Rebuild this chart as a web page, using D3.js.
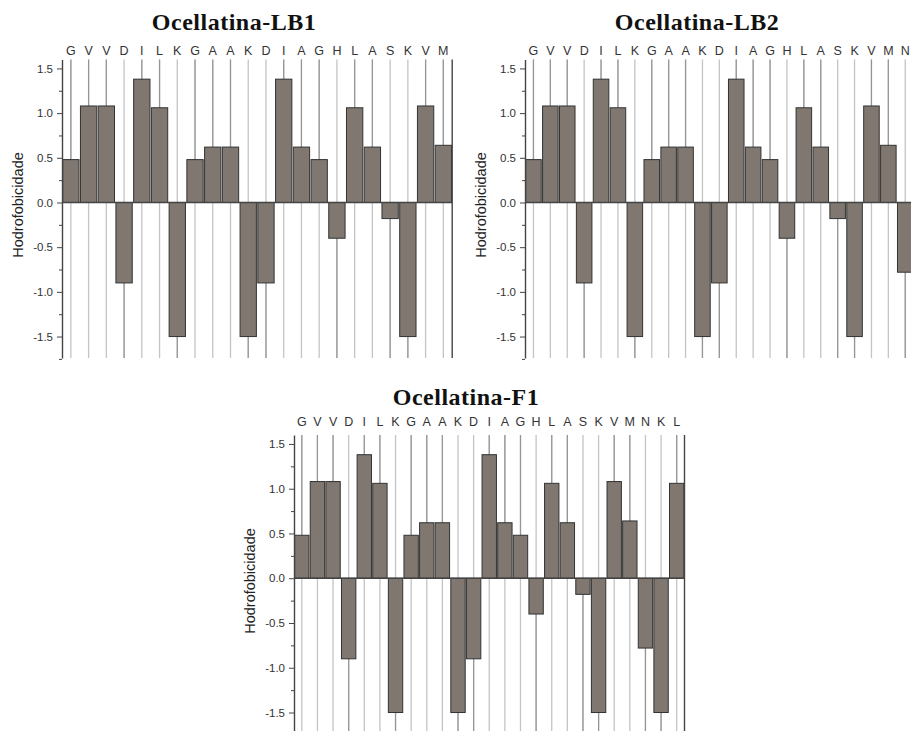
<!DOCTYPE html>
<html>
<head>
<meta charset="utf-8">
<script src="https://cdn.jsdelivr.net/npm/d3@7"></script>
<style>
  body { margin: 0; background: #fff; }
  svg { display: block; }
  .tick text { font-family: "Liberation Sans", Arial, sans-serif; font-size: 11.5px; fill: #333; }
</style>
</head>
<body>
<svg id="chart" width="911" height="731"></svg>
<script>
// sequences (top axis letters)
const seqLB1 = ['G','V','V','D','I','L','K','G','A','A','K','D','I','A','G','H','L','A','S','K','V','M'];
const seqLB2 = ['G','V','V','D','I','L','K','G','A','A','K','D','I','A','G','H','L','A','S','K','V','M','N'];
const seqF1  = ['G','V','V','D','I','L','K','G','A','A','K','D','I','A','G','H','L','A','S','K','V','M','N','K','L'];

// hydrophobicity per residue
const hydroLB1 = [0.48,1.08,1.08,-0.90,1.38,1.06,-1.50,0.48,0.62,0.62,-1.50,-0.90,1.38,0.62,0.48,-0.40,1.06,0.62,-0.18,-1.50,1.08,0.64];
const hydroLB2 = [0.48,1.08,1.08,-0.90,1.38,1.06,-1.50,0.48,0.62,0.62,-1.50,-0.90,1.38,0.62,0.48,-0.40,1.06,0.62,-0.18,-1.50,1.08,0.64,-0.78];
const hydroF1  = [0.48,1.08,1.08,-0.90,1.38,1.06,-1.50,0.48,0.62,0.62,-1.50,-0.90,1.38,0.62,0.48,-0.40,1.06,0.62,-0.18,-1.50,1.08,0.64,-0.78,-1.50,1.06];

const majorTicks = [-1.5, -1.0, -0.5, 0.0, 0.5, 1.0, 1.5];
const minorTicks = [-1.75, -1.25, -0.75, -0.25, 0.25, 0.75, 1.25];
const yDomain = [-1.74, 1.6];

const yLabel = "Hodrofobicidade";

let panels = [
  {title: "Ocellatina-LB1", seq: seqLB1, values: hydroLB1,
   left: 62, right: 452.2, top: 59.5, bottom: 358,
   titleX: 234, titleY: 30, letterY: 55, labelX: 23, labelY: 205},
  {title: "Ocellatina-LB2", seq: seqLB2, values: hydroLB2,
   left: 525, right: 913.7, top: 59.5, bottom: 358,
   titleX: 697, titleY: 30, letterY: 55, labelX: 486, labelY: 205},
  {title: "Ocellatina-F1", seq: seqF1, values: hydroF1,
   left: 294, right: 684.5, top: 435, bottom: 734,
   titleX: 466, titleY: 405, letterY: 426, labelX: 255, labelY: 581}
];

const svg = d3.select("#chart");

svg.append("rect")
  .attr("width", 911)
  .attr("height", 731)
  .attr("fill", "#fff");

function drawPanel(p) {
  let g = svg.append("g");

  let x = d3.scaleBand()
    .domain(d3.range(p.seq.length))
    .range([p.left, p.right])
    .paddingInner(0.08)
    .paddingOuter(0.04);

  let y = d3.scaleLinear()
    .domain(yDomain)
    .range([p.bottom, p.top]);

  let bw = x.bandwidth();

  // light grid lines through every residue
  g.selectAll(".grid")
    .data(p.values)
    .join("line")
      .attr("class", "grid")
      .attr("x1", (d, i) => x(i) + bw / 2)
      .attr("x2", (d, i) => x(i) + bw / 2)
      .attr("y1", p.top)
      .attr("y2", p.bottom)
      .attr("stroke", "#c4c4c4")
      .attr("stroke-width", 1.3);

  // darker drop line beyond the bar end
  g.selectAll(".drop")
    .data(p.values)
    .join("line")
      .attr("class", "drop")
      .attr("x1", (d, i) => x(i) + bw / 2)
      .attr("x2", (d, i) => x(i) + bw / 2)
      .attr("y1", d => y(d))
      .attr("y2", d => d > 0 ? p.top : p.bottom)
      .attr("stroke", "#959595")
      .attr("stroke-width", 1.2);

  g.selectAll(".bar")
    .data(p.values)
    .join("rect")
      .attr("class", "bar")
      .attr("x", (d, i) => x(i))
      .attr("y", d => y(Math.max(0, d)))
      .attr("width", bw)
      .attr("height", d => Math.abs(y(d) - y(0)))
      .attr("fill", "#7f7770")
      .attr("stroke", "#333")
      .attr("stroke-width", 1);

  // zero line
  g.append("line")
    .attr("x1", p.left)
    .attr("x2", p.right)
    .attr("y1", y(0))
    .attr("y2", y(0))
    .attr("stroke", "#444")
    .attr("stroke-width", 1.4);

  // right frame line
  g.append("line")
    .attr("x1", p.right)
    .attr("x2", p.right)
    .attr("y1", p.top)
    .attr("y2", p.bottom)
    .attr("stroke", "#444")
    .attr("stroke-width", 1.4);

  let yAxis = g.append("g")
    .attr("transform", `translate(${p.left},0)`)
    .call(d3.axisLeft(y)
      .tickValues(majorTicks)
      .tickSize(5)
      .tickSizeOuter(0)
      .tickPadding(4)
      .tickFormat(d => d.toFixed(1)));

  yAxis.select(".domain").attr("stroke", "#444").attr("stroke-width", 1.4);
  yAxis.selectAll(".tick line").attr("stroke", "#444");

  let minor = g.append("g")
    .attr("transform", `translate(${p.left},0)`)
    .call(d3.axisLeft(y)
      .tickValues(minorTicks)
      .tickSize(3)
      .tickSizeOuter(0)
      .tickFormat(""));

  minor.select(".domain").remove();
  minor.selectAll(".tick line").attr("stroke", "#444");

  // residue letters on top
  g.selectAll(".res")
    .data(p.seq)
    .join("text")
      .attr("class", "res")
      .attr("x", (d, i) => x(i) + bw / 2)
      .attr("y", p.letterY)
      .attr("text-anchor", "middle")
      .attr("font-family", "Liberation Sans, Arial, sans-serif")
      .attr("font-size", 12.5)
      .attr("fill", "#333")
      .text(d => d);

  g.append("text")
    .attr("x", p.titleX)
    .attr("y", p.titleY)
    .attr("text-anchor", "middle")
    .attr("font-family", "Liberation Serif, Times New Roman, serif")
    .attr("font-weight", "bold")
    .attr("font-size", 24)
    .attr("letter-spacing", 0.5)
    .attr("fill", "#111")
    .text(p.title);

  g.append("text")
    .attr("transform", `translate(${p.labelX},${p.labelY}) rotate(-90)`)
    .attr("text-anchor", "middle")
    .attr("font-family", "Liberation Sans, Arial, sans-serif")
    .attr("font-size", 14.5)
    .attr("fill", "#222")
    .text(yLabel);
}

panels.forEach(drawPanel);
</script>
</body>
</html>
